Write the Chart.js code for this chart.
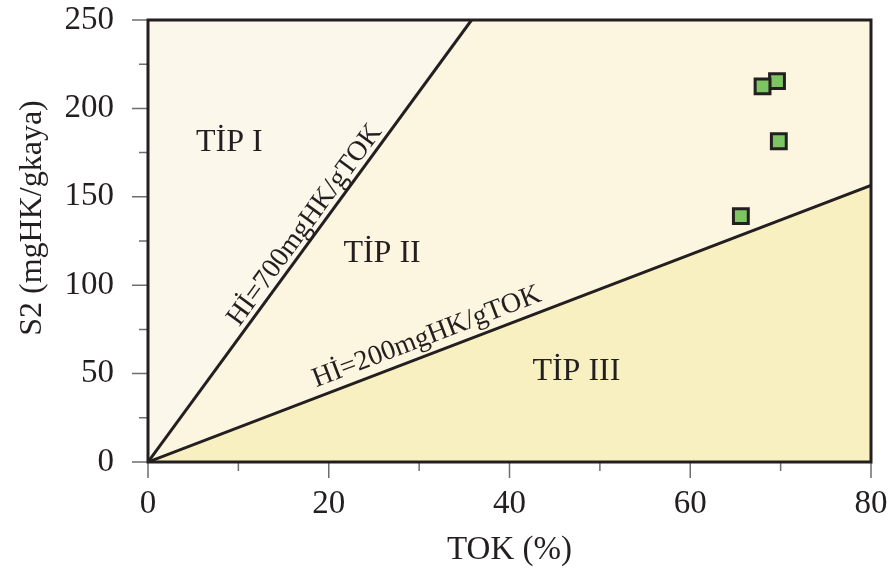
<!DOCTYPE html>
<html>
<head>
<meta charset="utf-8">
<script src="https://cdn.jsdelivr.net/npm/chart.js@4"></script>
<style>
  html, body { margin: 0; padding: 0; background: #fff; }
  #wrap { width: 890px; height: 577px; }
</style>
</head>
<body>
<div id="wrap"><canvas id="kerojen"></canvas></div>
<script>
// samples: TOK (%) and S2 (mgHK/gkaya)
const tok = [69.6, 68.0, 69.8, 65.6];
const s2 = [215.4, 212.5, 181.4, 139.1];

// HI boundaries as [TOK, S2] end points
const hi700 = [[0, 0], [35.8, 250]];
const hi200 = [[0, 0], [80, 156.5]];

const xMajor = [0, 20, 40, 60, 80];
const xMinor = [10, 30, 50, 70];
const yMajor = [0, 50, 100, 150, 200, 250];
const yMinor = [25, 75, 125, 175, 225];

const regionNames = ['TİP I', 'TİP II', 'TİP III'];
const regionAt = [[9.0, 180.4], [25.9, 117.6], [47.4, 50.9]];
const lineNames = ['Hİ=700mgHK/gTOK', 'Hİ=200mgHK/gTOK'];
const lineLabelAt = [[17.35, 134], [30.85, 70.7]];

const ink = '#231F20';
const serif = '"Liberation Serif", "Times New Roman", serif';
const pts = pairs => pairs.map(([x, y]) => ({ x, y }));

// fixed axis boxes, no extra room for overhanging labels
const fitBox = (w, h) => s => {
  if (w) s.width = w;
  if (h) s.height = h;
  s.paddingTop = s.paddingBottom = s.paddingLeft = s.paddingRight = 0;
};

const diagram = {
  id: 'diagram',
  beforeDraw(chart) {
    const { ctx, chartArea: a } = chart;
    ctx.save();
    ctx.fillStyle = '#FCF5DF';
    ctx.fillRect(a.left, a.top, a.width, a.height);
    ctx.restore();
  },
  afterDraw(chart) {
    const { ctx, chartArea: a, scales: { x, y } } = chart;
    ctx.save();

    // tick marks, outside the frame
    ctx.strokeStyle = '#6D6E71';
    ctx.lineWidth = 1.5;
    ctx.beginPath();
    const xt = (v, len) => { const p = x.getPixelForValue(v); ctx.moveTo(p, a.bottom); ctx.lineTo(p, a.bottom + len); };
    const yt = (v, len) => { const p = y.getPixelForValue(v); ctx.moveTo(a.left, p); ctx.lineTo(a.left - len, p); };
    xMajor.forEach(v => xt(v, 16));
    xMinor.forEach(v => xt(v, 9));
    yMajor.forEach(v => yt(v, 16));
    yMinor.forEach(v => yt(v, 9));
    ctx.stroke();

    // frame
    ctx.strokeStyle = ink;
    ctx.lineWidth = 3;
    ctx.strokeRect(a.left, a.top, a.width, a.height);

    ctx.fillStyle = ink;
    ctx.textAlign = 'center';
    ctx.textBaseline = 'middle';

    // field names
    ctx.font = '32px ' + serif;
    regionNames.forEach((t, i) => {
      ctx.fillText(t, x.getPixelForValue(regionAt[i][0]), y.getPixelForValue(regionAt[i][1]));
    });

    // boundary labels, turned along their lines
    ctx.font = '28px ' + serif;
    [hi700, hi200].forEach((ln, i) => {
      const dx = x.getPixelForValue(ln[1][0]) - x.getPixelForValue(ln[0][0]);
      const dy = y.getPixelForValue(ln[1][1]) - y.getPixelForValue(ln[0][1]);
      ctx.save();
      ctx.translate(x.getPixelForValue(lineLabelAt[i][0]), y.getPixelForValue(lineLabelAt[i][1]));
      ctx.rotate(Math.atan2(dy, dx));
      ctx.fillText(lineNames[i], 0, 0);
      ctx.restore();
    });

    // axis titles
    ctx.font = '33px ' + serif;
    ctx.fillText('TOK (%)', (a.left + a.right) / 2, 550);
    ctx.save();
    ctx.translate(33, 218);
    ctx.rotate(-Math.PI / 2);
    ctx.font = '32px ' + serif;
    ctx.fillText('S2 (mgHK/gkaya)', 0, 0);
    ctx.restore();

    ctx.restore();
  }
};

new Chart(document.getElementById('kerojen'), {
  type: 'scatter',
  data: {
    datasets: [{
      data: tok.map((v, i) => ({ x: v, y: s2[i] })),
      pointStyle: 'rect',
      pointRadius: 10.5,
      pointHoverRadius: 10.5,
      backgroundColor: '#7DC462',
      borderColor: ink,
      borderWidth: 3,
      order: 0
    }, {
      type: 'line',
      data: pts(hi700),
      borderColor: ink,
      borderWidth: 3,
      pointRadius: 0,
      fill: 'end',
      backgroundColor: '#FBF7EB',
      order: 1
    }, {
      type: 'line',
      data: pts(hi200),
      borderColor: ink,
      borderWidth: 3,
      pointRadius: 0,
      fill: 'start',
      backgroundColor: '#F9F0C2',
      order: 2
    }]
  },
  options: {
    responsive: true,
    maintainAspectRatio: false,
    animation: false,
    layout: { padding: { top: 20, right: 19, left: 0, bottom: 0 } },
    plugins: { legend: { display: false }, tooltip: { enabled: false } },
    scales: {
      x: {
        type: 'linear',
        min: 0,
        max: 80,
        afterFit: fitBox(0, 115),
        grid: { drawOnChartArea: false, drawTicks: false },
        border: { display: false },
        ticks: { stepSize: 20, padding: 23, color: ink, font: { family: serif, size: 33 } }
      },
      y: {
        min: 0,
        max: 250,
        afterFit: fitBox(148, 0),
        grid: { drawOnChartArea: false, drawTicks: false },
        border: { display: false },
        ticks: { stepSize: 50, padding: 34, color: ink, font: { family: serif, size: 33 } }
      }
    }
  },
  plugins: [diagram]
});
</script>
</body>
</html>
